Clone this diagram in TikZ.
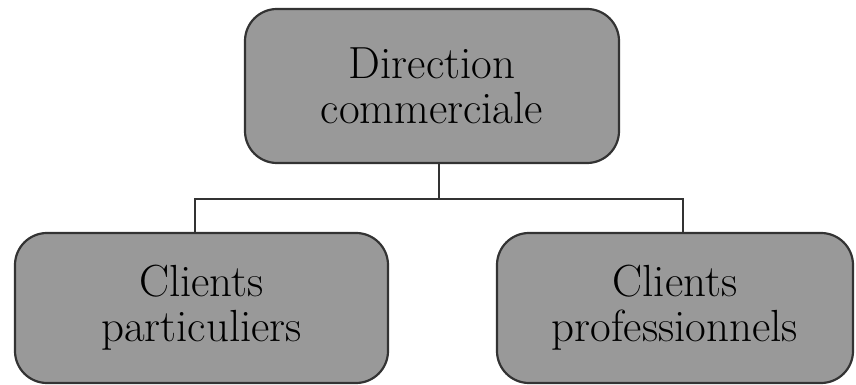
\documentclass[tikz,border=0pt]{standalone}
\usepackage{fontspec}
\begin{document}
\begin{tikzpicture}[x=1pt,y=1pt,
  unitbox/.style={draw=black!80, line width=2.2pt, fill=black!40,
    rounded corners=32pt, align=center, inner sep=0pt,
    font=\fontsize{45}{45}\selectfont},
  link/.style={draw=black!80, line width=1.8pt}]
\useasboundingbox (0,0) rectangle (856,385);
% units
\node[unitbox, minimum width=374pt, minimum height=154pt] (top) at (432,299)
  {Direction\\commerciale};
\node[unitbox, minimum width=373pt, minimum height=150pt] (left) at (201.5,77)
  {Clients\\particuliers};
\node[unitbox, minimum width=356pt, minimum height=150pt] (right) at (675,77)
  {Clients\\professionnels};
% tree connector
\draw[link] ([xshift=7pt]top.south) -- ++(0,-35) coordinate (bus);
\draw[link] ([xshift=-6.5pt]left.north) |- ([xshift=8pt]right.north |- bus)
  -- ([xshift=8pt]right.north);
\end{tikzpicture}
\end{document}
